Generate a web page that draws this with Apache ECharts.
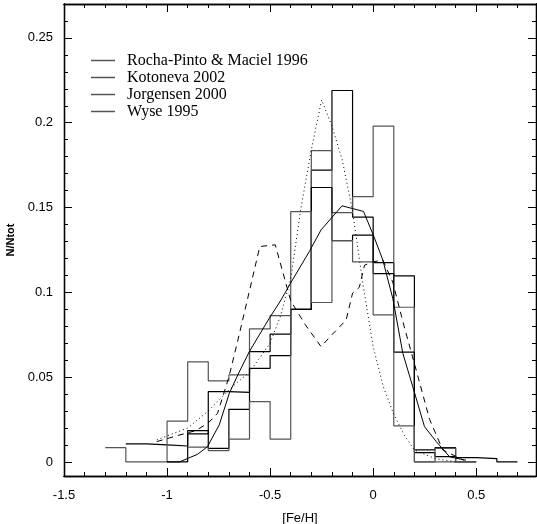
<!DOCTYPE html>
<html><head><meta charset="utf-8">
<script src="https://cdn.jsdelivr.net/npm/echarts@6/dist/echarts.min.js"></script>
<style>html,body{margin:0;padding:0;background:#fff}#c{width:537px;height:524px}</style>
</head><body><div id="c"></div>
<script>
// bin edges of the histograms ([Fe/H])
const binEdges = [-1.3,-1.2,-1.1,-1.0,-0.9,-0.8,-0.7,-0.6,-0.5,-0.4,-0.3,-0.2,-0.1,0.0,0.1,0.2,0.3,0.4,0.5,0.6,0.7];
// histogram heights N/Ntot per bin (null = no bin drawn)
const rochaPinto = [null,0.0106,0.0100,0.0094,0.0165,0.0415,0.0410,0.0650,0.0753,0.0900,0.1720,0.2190,0.1443,0.1175,0.1097,0.0071,0.0084,0.0025,0.0020,0.0];
const kotoneva   = [0.0084,0.0,0.0,0.0240,0.0590,0.0478,0.0513,0.0784,0.0863,0.0900,0.1836,0.1470,0.1564,0.1980,0.0912,0.0,0.0,null,null,null];
const jorgensen  = [null,null,null,0.0,0.0185,0.0080,0.0310,0.0552,0.0627,0.0900,0.1618,0.1305,0.1337,0.1110,0.0647,0.0055,0.0031,0.0,null,null];
const wyse       = [null,null,null,null,0.0087,0.0067,0.0135,0.0356,0.0134,0.1476,0.0940,0.1305,0.1180,0.0867,0.0212,0.0,0.0080,0.0,null,null];
// model curves
const dashedX = [-1.05,-0.95,-0.86,-0.8,-0.755,-0.7,-0.65,-0.6,-0.55,-0.475,-0.4,-0.33,-0.253,-0.2,-0.131,-0.1,-0.067,-0.042,0.0,0.047,0.095,0.15,0.209,0.274,0.338,0.44];
const dashedY = [0.012,0.0155,0.0185,0.023,0.0287,0.050,0.075,0.101,0.127,0.128,0.095,0.081,0.068,0.075,0.0837,0.0995,0.103,0.116,0.118,0.119,0.106,0.080,0.054,0.025,0.007,0.001];
const dottedX = [-1.05,-0.9,-0.8,-0.7,-0.6,-0.5,-0.45,-0.4,-0.35,-0.3,-0.25,-0.2,-0.15,-0.1,-0.05,0.0,0.05,0.1,0.15,0.2,0.3,0.4];
const dottedY = [0.013,0.020,0.030,0.0425,0.053,0.070,0.086,0.108,0.150,0.184,0.2134,0.198,0.178,0.148,0.105,0.068,0.044,0.028,0.016,0.007,0.002,0.0];
const solidX = [-1.0,-0.94,-0.852,-0.804,-0.747,-0.698,-0.65,-0.601,-0.504,-0.447,-0.398,-0.31,-0.253,-0.151,-0.047,0.0,0.047,0.095,0.144,0.192,0.249,0.306,0.371,0.45];
const solidY = [0.0,0.0,0.0045,0.009,0.0218,0.0405,0.053,0.065,0.0847,0.0955,0.106,0.124,0.1368,0.151,0.1477,0.134,0.119,0.0965,0.064,0.0444,0.0208,0.012,0.003,0.001];
const xMajor = [-1.5,-1.0,-0.5,0.0,0.5];
const yMajor = [0,0.05,0.1,0.15,0.2,0.25];

function stepData(h){
  const pts=[];
  for(let i=0;i<h.length;i++){
    if(h[i]===null){ if(pts.length && pts[pts.length-1]!==null) pts.push(null); continue; }
    pts.push([binEdges[i],h[i]]); pts.push([binEdges[i+1],h[i]]);
  }
  return pts.map(p=>p===null?[NaN,NaN]:p);
}
function zip(a,b){return a.map((v,i)=>[v,b[i]]);}
const minorX=[]; for(let i=-15;i<=7;i++) minorX.push(+(i/10).toFixed(2));
const minorY=[]; for(let i=0;i<=27;i++) minorY.push(+(i/100).toFixed(2));
const XMIN=-1.5, XMAX=0.79, YMIN=-0.0083, YMAX=0.27;
const fontS='"Liberation Sans",Arial,sans-serif';
function xAx(pos,vals,len,labels,extra){
  return Object.assign({type:'value',position:pos,min:XMIN,max:XMAX,
    axisLine:{show:true,onZero:false,lineStyle:{color:'#000',width:1.3}},
    axisTick:{show:true,inside:true,length:len,customValues:vals,lineStyle:{color:'#000'}},
    axisLabel:{show:labels,customValues:vals,color:'#000',fontSize:13,fontFamily:fontS,margin:13,
      formatter:v=>String(+v.toFixed(2))},
    splitLine:{show:false}},extra||{});
}
function yAx(pos,vals,len,labels){
  return {type:'value',position:pos,min:YMIN,max:YMAX,
    axisLine:{show:true,onZero:false,lineStyle:{color:'#000',width:1.3}},
    axisTick:{show:true,inside:true,length:len,customValues:vals,lineStyle:{color:'#000'}},
    axisLabel:{show:labels,customValues:vals,color:'#000',fontSize:13,fontFamily:fontS,margin:11,
      formatter:v=>String(+v.toFixed(2))},
    splitLine:{show:false}};
}
const histColors=['#000','#555','#000','#555'];
const names=['Rocha-Pinto & Maciel 1996','Kotoneva 2002','Jorgensen 2000','Wyse 1995'];
const hists=[rochaPinto,kotoneva,jorgensen,wyse];
const series=hists.map((h,i)=>({name:names[i],type:'line',data:stepData(h),symbol:'none',connectNulls:false,
  lineStyle:{color:histColors[i],width:1.2},itemStyle:{color:'#555'},animation:false,z:2}));
series.push({name:'dashed',type:'line',data:zip(dashedX,dashedY),symbol:'none',lineStyle:{color:'#000',width:1,type:[6,5]},animation:false,z:3});
series.push({name:'dotted',type:'line',data:zip(dottedX,dottedY),symbol:'none',lineStyle:{color:'#000',width:1,type:[1,3]},animation:false,z:3});
series.push({name:'solid',type:'line',data:zip(solidX,solidY),symbol:'none',lineStyle:{color:'#000',width:1},animation:false,z:3});

const chart=echarts.init(document.getElementById('c'),null,{renderer:'canvas'});
chart.setOption({
  backgroundColor:'#fff',animation:false,
  grid:{left:64,right:1,top:4,bottom:48,containLabel:false,outerBoundsMode:'none'},
  legend:{data:names,orient:'vertical',left:86,top:47,itemWidth:24,itemHeight:1.5,itemGap:0,icon:'rect',
    itemStyle:{color:'#555'},textStyle:{fontFamily:'"Liberation Serif","Times New Roman",serif',fontSize:16,lineHeight:17,color:'#000',padding:[0,0,0,7]},
    selectedMode:false},
  xAxis:[
    xAx('bottom',minorX,4,false),
    xAx('bottom',xMajor,8,true,{name:'[Fe/H]',nameLocation:'middle',nameGap:36,nameTextStyle:{color:'#000',fontSize:13,fontFamily:fontS}}),
    xAx('top',minorX,4,false),
    xAx('top',xMajor,8,false)
  ],
  yAxis:[
    yAx('left',minorY,4,false),
    Object.assign(yAx('left',yMajor,8,true),{name:'N/Ntot',nameLocation:'middle',nameGap:33,nameTextStyle:{color:'#000',fontSize:11,fontWeight:'bold',fontFamily:fontS}}),
    yAx('right',minorY,4,false),
    yAx('right',yMajor,8,false)
  ],
  series:series
});
</script></body></html>
